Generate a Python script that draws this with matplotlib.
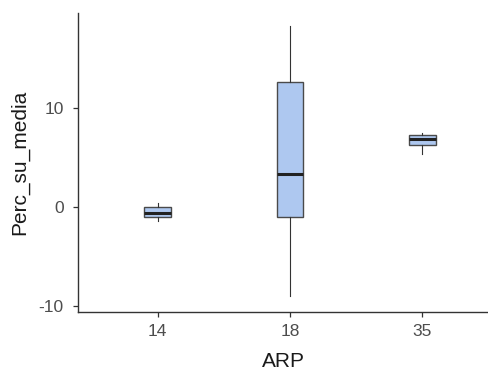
import matplotlib
matplotlib.use('Agg')
import matplotlib.pyplot as plt

plt.rcParams['font.family'] = ['Liberation Sans', 'DejaVu Sans']

categories = ['14', '18', '35']
whisker_low = [-1.45, -9.06, 5.38]
q1 = [-1.04, -1.04, 6.30]
median = [-0.57, 3.36, 6.90]
q3 = [0.03, 12.70, 7.27]
whisker_high = [0.43, 18.30, 7.54]

stats = []
for lab, lo, a, m, b, hi in zip(categories, whisker_low, q1, median, q3, whisker_high):
    stats.append({'label': lab, 'whislo': lo, 'q1': a, 'med': m, 'q3': b,
                  'whishi': hi, 'fliers': []})

fig = plt.figure(figsize=(4.89, 3.71), dpi=100)
ax = fig.add_axes([0.160, 0.160, 0.840, 0.805])

pos = list(range(1, len(categories) + 1))
ax.bxp(stats, positions=pos, widths=0.2, patch_artist=True, showcaps=False,
       boxprops=dict(facecolor='#AEC8F0', edgecolor='#4A4A4A', linewidth=1.0),
       medianprops=dict(color='#222222', linewidth=2.2),
       whiskerprops=dict(color='#333333', linewidth=0.8))

ax.set_xlim(0.4, 3.504)
ax.set_ylim(-10.6, 19.65)
ax.set_xticks(pos)
ax.set_xticklabels(categories)
ax.set_yticks([-10, 0, 10])
ax.set_yticklabels(['-10', '0', '10'])

for s in ['top', 'right']:
    ax.spines[s].set_visible(False)
for s in ['left', 'bottom']:
    ax.spines[s].set_color('#333333')
    ax.spines[s].set_linewidth(1.0)

ax.tick_params(axis='both', length=3.5, width=0.9, color='#333333',
               labelcolor='#4D4D4D', labelsize=12.5)
ax.tick_params(axis='x', pad=5.5)
ax.tick_params(axis='y', pad=7)

ax.set_xlabel('ARP', fontsize=15, color='#1A1A1A', labelpad=9)
ax.set_ylabel('Perc_su_media', fontsize=15, color='#1A1A1A', labelpad=7)

fig.savefig('out.png', dpi=100)
